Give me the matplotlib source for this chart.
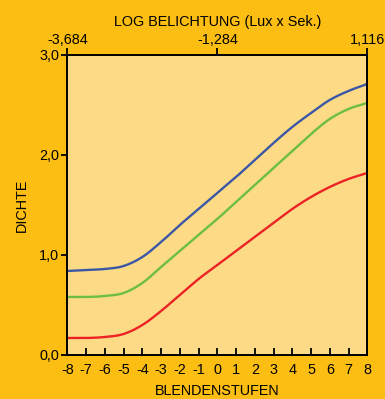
"""
Density curves (DICHTE) over exposure stops, with log exposure on the top axis.
"""

import numpy as np
import matplotlib
matplotlib.use("Agg")
import matplotlib.pyplot as plt

plt.rcParams["font.family"] = ["Liberation Sans", "DejaVu Sans"]
plt.rcParams["axes.unicode_minus"] = False

# --- data ---
stops = [-8, -7, -6, -5, -4, -3, -2, -1, 0, 1, 2, 3, 4, 5, 6, 7, 8]
dichte_blau = [0.84, 0.85, 0.86, 0.89, 0.98, 1.13, 1.30, 1.46, 1.62, 1.78,
               1.95, 2.12, 2.28, 2.42, 2.55, 2.64, 2.71]
dichte_gruen = [0.58, 0.58, 0.59, 0.62, 0.72, 0.88, 1.04, 1.20, 1.36, 1.53,
                1.70, 1.87, 2.04, 2.21, 2.36, 2.46, 2.52]
dichte_rot = [0.17, 0.17, 0.18, 0.21, 0.30, 0.44, 0.60, 0.76, 0.90, 1.04,
              1.18, 1.32, 1.46, 1.58, 1.68, 1.76, 1.82]

y_ticks = [0, 1, 2, 3]
y_labels = ["0,0", "1,0", "2,0", "3,0"]
top_ticks = [-8, 0, 8]
top_labels = ["-3,684", "-1,284", "1,116"]

BG = "#fdbe14"
PLOT_BG = "#fddb86"
C_BLAU = "#3b57a6"
C_GRUEN = "#6cbd45"
C_ROT = "#ec2227"
FS = 10.4


def smooth(x, y, n=20):
    # Catmull-Rom spline through the given points, for drawing only
    x = np.asarray(x, float)
    y = np.asarray(y, float)
    px = np.concatenate([[2 * x[0] - x[1]], x, [2 * x[-1] - x[-2]]])
    py = np.concatenate([[2 * y[0] - y[1]], y, [2 * y[-1] - y[-2]]])
    xs, ys = [], []
    t = np.linspace(0, 1, n, endpoint=False)
    for i in range(1, len(px) - 2):
        for p, out in ((px, xs), (py, ys)):
            p0, p1, p2, p3 = p[i - 1], p[i], p[i + 1], p[i + 2]
            out.append(0.5 * (2 * p1 + (-p0 + p2) * t
                              + (2 * p0 - 5 * p1 + 4 * p2 - p3) * t ** 2
                              + (-p0 + 3 * p1 - 3 * p2 + p3) * t ** 3))
    xs.append([x[-1]])
    ys.append([y[-1]])
    return np.concatenate(xs), np.concatenate(ys)


fig = plt.figure(figsize=(3.85, 3.99), dpi=100, facecolor=BG)
ax = fig.add_axes([0.175, 0.1103, 0.779, 0.752])
ax.set_facecolor(PLOT_BG)

for vals, col in ((dichte_blau, C_BLAU), (dichte_gruen, C_GRUEN), (dichte_rot, C_ROT)):
    sx, sy = smooth(stops, vals)
    ax.plot(sx, sy, color=col, lw=1.7, solid_capstyle="butt")

ax.set_xlim(-8, 8)
ax.set_ylim(0, 3)
for s in ax.spines.values():
    s.set_linewidth(1.3)
    s.set_color("black")

ax.set_xticks(stops)
ax.set_xticklabels([str(s) for s in stops])
ax.tick_params(axis="x", direction="in", length=5, width=1.3, pad=6,
               labelsize=FS, color="black")
ax.set_yticks(y_ticks)
ax.set_yticklabels(y_labels)
ax.tick_params(axis="y", direction="out", length=4, width=1.3, pad=2,
               labelsize=FS)

ax.set_xlabel("BLENDENSTUFEN", fontsize=FS, labelpad=5)
ax.set_ylabel("DICHTE", fontsize=FS, labelpad=7)

top = ax.twiny()
top.set_xlim(-8, 8)
top.set_xticks(top_ticks)
top.set_xticklabels(top_labels)
top.tick_params(axis="x", direction="out", length=5, width=1.3, pad=1,
                labelsize=FS)
top.set_xlabel("LOG BELICHTUNG (Lux x Sek.)", fontsize=FS, labelpad=5)
for s in top.spines.values():
    s.set_linewidth(1.3)

fig.savefig("out.png", dpi=100, facecolor=BG)
